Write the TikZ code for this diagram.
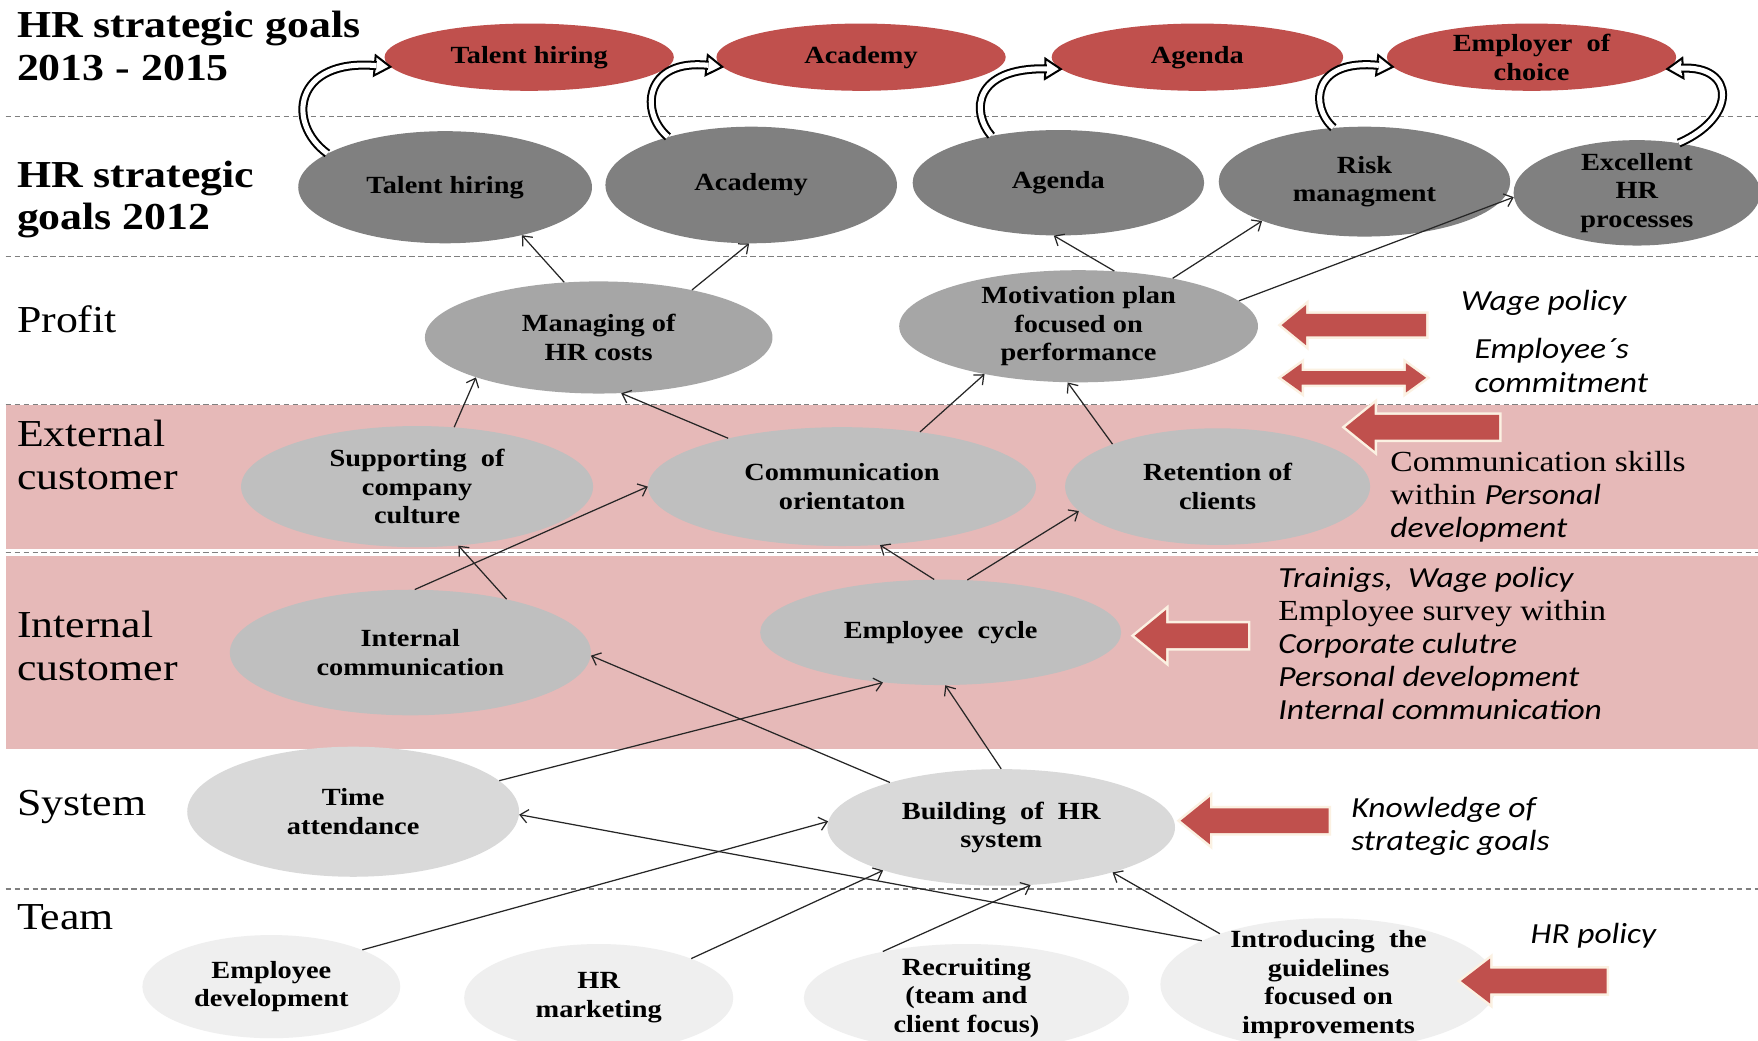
\documentclass[tikz,border=0pt]{standalone}
\usepackage{fontspec}
\setmainfont{Liberation Serif}[FakeStretch=1.15]
\newfontfamily\calfont{Carlito}[FakeStretch=1.15]
\usetikzlibrary{shapes.geometric,arrows.meta,calc}

\definecolor{rd}{HTML}{C0504D}
\definecolor{band}{HTML}{E6B9B8}
\definecolor{gdark}{HTML}{808080}
\definecolor{gmid}{HTML}{A6A6A6}
\definecolor{glight}{HTML}{BFBFBF}
\definecolor{gpale}{HTML}{D9D9D9}
\definecolor{gfaint}{HTML}{EFEFEF}
\definecolor{gline}{HTML}{7F7F7F}
\definecolor{glow}{HTML}{FBF1E2}

\newcommand\ndfont{\fontsize{22}{25.5}\selectfont\bfseries}
\newcommand\ttlfont{\fontsize{34}{38}\selectfont\bfseries}
\newcommand\lblfont{\fontsize{34}{38}\selectfont}
\newcommand\notefont{\fontsize{26}{29.5}\selectfont}
\newcommand\calit{\calfont\itshape}

\tikzset{
  ov/.style={ellipse, inner sep=-40pt, align=center, font=\ndfont, text=black},
  ovred/.style={ov, fill=rd},
  ovdark/.style={ov, fill=gdark},
  ovmid/.style={ov, fill=gmid},
  ovlight/.style={ov, fill=glight},
  ovpale/.style={ov, fill=gpale},
  ovfaint/.style={ov, fill=gfaint},
  conn/.style={draw=black!85, line width=1.1pt,
    -{Straight Barb[length=7pt,width=12pt,line width=1.1pt]}},
  hollow/.style={draw=black, line width=1.8pt, double=white, double distance=4.5pt},
  sepline/.style={draw=gline, line width=1.2pt, dash pattern=on 5pt off 3pt},
  lbl/.style={anchor=west, inner sep=0pt, align=left, font=\lblfont},
  note/.style={anchor=west, inner sep=0pt, align=left, font=\notefont},
  blockarr/.style={fill=rd, preaction={draw=glow, line width=4.5pt, line join=miter}},
}

% curved hollow arrow: start, control 1, control 2, tip
\newcommand\hollowarr[4]{%
  \path (#4) coordinate (ht) ($(#4)!14pt!(#3)$) coordinate (hb)
        ($(#4)!12.5pt!(#3)$) coordinate (hs);
  \filldraw[fill=white, draw=black, line width=1.8pt, line join=miter]
    (ht) -- ($(hb)!9pt!90:(ht)$) -- ($(hb)!9pt!-90:(ht)$) -- cycle;
  \draw[hollow] (#1) .. controls (#2) and (#3) .. (hs);
}

% red block arrow pointing left: tip x, tail x, y, shaft half, head half, head length
\newcommand\redarrow[6]{%
  \path[blockarr] (#1,#3) -- (#1+#6,#3-#5) -- (#1+#6,#3-#4) -- (#2,#3-#4)
    -- (#2,#3+#4) -- (#1+#6,#3+#4) -- (#1+#6,#3+#5) -- cycle;
}

\begin{document}
\begin{tikzpicture}[x=1pt,y=-1pt]
\useasboundingbox (0,0) rectangle (1568,928);
\fill[white] (0,0) rectangle (1568,928);

% customer bands
\fill[band] (5,361) rectangle (1568,668);
\fill[white] (5,490) rectangle (1568,496);
\foreach \yy in {104,229,361,493,793} \draw[sepline] (5,\yy) -- (1568,\yy);

% level labels
\node[lbl, font=\ttlfont] (lvA) at (15,41) {HR strategic goals\\2013 - 2015};
\node[lbl, font=\ttlfont] (lvB) at (15,178) {HR strategic\\goals 2012};
\node[lbl] (lvC) at (15,285) {Profit};
\node[lbl] (lvD) at (15,406) {External\\customer};
\node[lbl] (lvE) at (15,576) {Internal\\customer};
\node[lbl] (lvF) at (15,720) {System};
\node[lbl] (lvG) at (15,818) {Team};

% goals 2013 - 2015
\node[ovred, minimum width=258pt, minimum height=60pt] (r1) at (472,51) {Talent hiring};
\node[ovred, minimum width=258pt, minimum height=60pt] (r2) at (768,51) {Academy};
\node[ovred, minimum width=260pt, minimum height=60pt] (r3) at (1068,51) {Agenda};
\node[ovred, minimum width=258pt, minimum height=60pt] (r4) at (1366,51) {Employer\ \ of\\choice};

% goals 2012
\node[ovdark, minimum width=262pt, minimum height=100pt] (g1) at (397,167) {Talent hiring};
\node[ovdark, minimum width=260pt, minimum height=104pt] (g2) at (670,165) {Academy};
\node[ovdark, minimum width=260pt, minimum height=94pt] (g3) at (944,163) {Agenda};
\node[ovdark, minimum width=260pt, minimum height=98pt] (g4) at (1217,162) {Risk\\managment};
\node[ovdark, minimum width=220pt, minimum height=94pt] (g5) at (1460,172) {Excellent\\HR\\processes};

% profit
\node[ovmid, minimum width=310pt, minimum height=100pt] (p1) at (534,301) {Managing of\\HR costs};
\node[ovmid, minimum width=320pt, minimum height=100pt] (p2) at (962,291) {Motivation plan\\focused on\\performance};

% external customer
\node[ovlight, minimum width=314pt, minimum height=108pt] (e1) at (372,434) {Supporting\ \ of\\company\\culture};
\node[ovlight, minimum width=346pt, minimum height=106pt] (e2) at (751,434) {Communication\\orientaton};
\node[ovlight, minimum width=272pt, minimum height=104pt] (e3) at (1086,434) {Retention of\\clients};

% internal customer
\node[ovlight, minimum width=322pt, minimum height=112pt] (i1) at (366,582) {Internal\\communication};
\node[ovlight, minimum width=322pt, minimum height=94pt] (i2) at (839,564) {Employee\ \ cycle};

% system
\node[ovpale, minimum width=296pt, minimum height=116pt] (s1) at (315,724) {Time\\attendance};
\node[ovpale, minimum width=310pt, minimum height=104pt] (s2) at (893,738) {Building\ \ of\ \ HR\\system};

% team
\node[ovfaint, minimum width=230pt, minimum height=92pt] (t1) at (242,880) {Employee\\development};
\node[ovfaint, minimum width=240pt, minimum height=96pt] (t2) at (534,890) {HR\\marketing};
\node[ovfaint, minimum width=290pt, minimum height=96pt] (t3) at (862,890) {Recruiting\\(team and\\client focus)};
\node[ovfaint, minimum width=300pt, minimum height=118pt] (t4) at (1185,878) {Introducing\ \ the\\guidelines\\focused on\\improvements};

% links from 2012 goals to 2013 - 2015 goals
\hollowarr{g1.164}{255,110}{262,52}{r1.184}
\hollowarr{g2.150}{570,100}{575,52}{r2.184}
\hollowarr{g3.145}{866,100}{868,60}{r3.185}
\hollowarr{g4.120}{1168,95}{1170,52}{r4.184}
\hollowarr{g5.50}{1550,105}{1548,58}{r4.-5}

% connectors
\draw[conn] (p1.122) -- (g1.-32);
\draw[conn] (p1.27) -- (g2.-92);
\draw[conn] (p2.57) -- (g3.-95);
\draw[conn] (p2.27) -- (g4.-159);
\draw[conn] (p2.9) -- (g5.-178);
\draw[conn] (e1.58) -- (p1.-162);
\draw[conn] (e2.157) -- (p1.-68);
\draw[conn] (e2.35) -- (p2.-153);
\draw[conn] (e3.158) -- (p2.-101);
\draw[conn] (i1.29) -- (e1.-55);
\draw[conn] (i1.86) -- (e2.180);
\draw[conn] (i2.97) -- (e2.-57);
\draw[conn] (i2.63) -- (e3.-170);
\draw[conn] (s1.12) -- (i2.-139);
\draw[conn] (s2.158) -- (i1.-1);
\draw[conn] (s2.90) -- (i2.-85);
\draw[conn] (t1.22) -- (s2.178);
\draw[conn] (t2.23) -- (s2.-160);
\draw[conn] (t3.151) -- (s2.-63);
\draw[conn] (t4.155) -- (s2.-22);
\draw[conn] (t4.161) -- (s1.-1);

% red block arrows
\redarrow{1143}{1272}{290}{10}{18}{22}
\path[blockarr] (1143,337) -- (1161,324) -- (1161,331) -- (1254,331) -- (1254,324)
  -- (1272,337) -- (1254,350) -- (1254,343) -- (1161,343) -- (1161,350) -- cycle;
\redarrow{1200}{1337}{381}{11}{21}{26}
\redarrow{1012}{1113}{567}{11}{23}{28}
\redarrow{1053}{1185}{732}{11}{21}{26}
\redarrow{1303}{1433}{875}{11}{20}{26}

% side notes
\node[note, font=\notefont\calit] (n1) at (1303,270) {Wage policy};
\node[note, font=\notefont\calit] (n2) at (1315,326) {Employee´s\\commitment};
\node[note] (n3) at (1240,443) {Communication skills\\within\ {\calit Personal}\\{\calit development}};
\node[note] (n4) at (1140,574) {{\calit Trainigs,\ \ Wage policy}\\Employee survey within\\{\calit Corporate culutre}\\{\calit Personal development}\\{\calit Internal communication}};
\node[note, font=\notefont\calit] (n5) at (1205,737) {Knowledge of\\strategic goals};
\node[note, font=\notefont\calit] (n6) at (1365,835) {HR policy};
\end{tikzpicture}
\end{document}
